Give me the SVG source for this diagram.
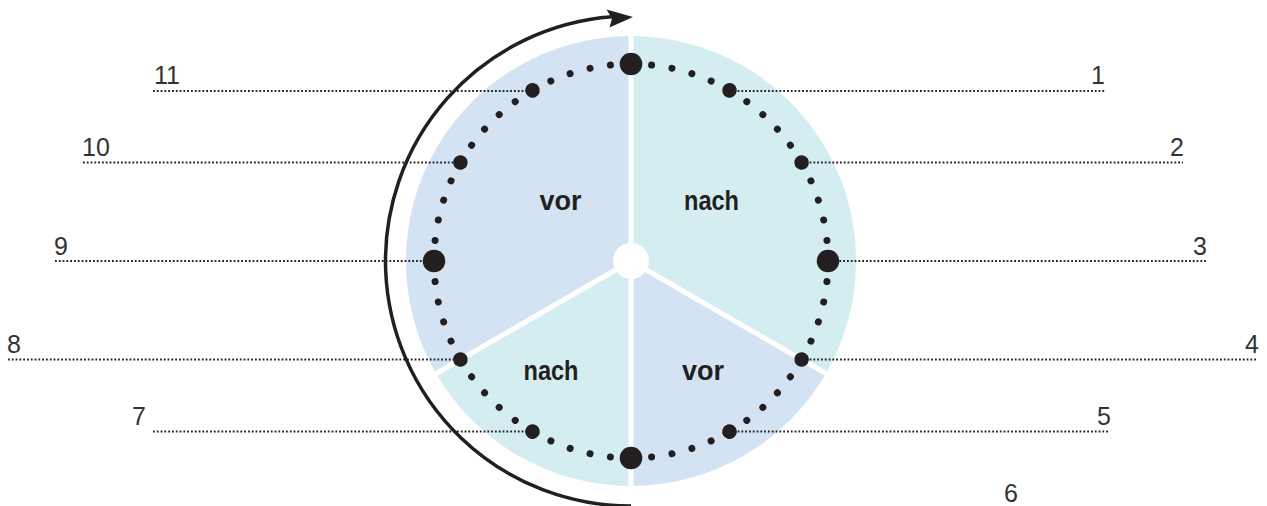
<svg xmlns="http://www.w3.org/2000/svg" xmlns:xlink="http://www.w3.org/1999/xlink" width="1267" height="506" viewBox="0 0 1267 506">
<style>
.blue{fill:#d3e3f4}
.cyan{fill:#d4edf1}
.sep{stroke:#fff;stroke-width:5;fill:none}
.dot{fill:#231f20}
.lead{stroke:#222;stroke-width:1.8;stroke-dasharray:1.8 2;fill:none}
.num{font-family:"Liberation Sans",Arial,sans-serif;font-size:25px;fill:#333}
.lab{font-family:"Liberation Sans",Arial,sans-serif;font-size:27px;font-weight:bold;fill:#231f20;text-anchor:middle}
.arc{stroke:#231f20;stroke-width:3.5;fill:none}
</style>
<defs>
<circle id="m" cx="631" cy="64" r="3.5" class="dot"/>
<circle id="h" cx="631" cy="64" r="7.3" class="dot"/>
<circle id="b" cx="631" cy="64" r="11.3" class="dot"/>
</defs>
<g id="face">
<path class="blue" d="M631,261 L631,36 A225,225 0 0 0 436.1,373.5 Z"/>
<path class="cyan" d="M631,261 L631,36 A225,225 0 0 1 825.9,373.5 Z"/>
<path class="blue" d="M631,261 L825.9,373.5 A225,225 0 0 1 631,486 Z"/>
<path class="cyan" d="M631,261 L631,486 A225,225 0 0 1 436.1,373.5 Z"/>
<path class="sep" d="M631,30 L631,492 M631,261 L831.1,376.5 M631,261 L430.9,376.5"/>
<circle cx="631" cy="261" r="18" fill="#fff"/>
</g>
<g id="connectors">
<path class="lead" d="M153,91 H532"/>
<path class="lead" d="M83,162.5 H460"/>
<path class="lead" d="M55,261 H434"/>
<path class="lead" d="M8,359.5 H460"/>
<path class="lead" d="M153,431.5 H532"/>
<path class="lead" d="M730,91 H1106"/>
<path class="lead" d="M802,162.5 H1183"/>
<path class="lead" d="M828,261 H1208"/>
<path class="lead" d="M802,359.5 H1258"/>
<path class="lead" d="M730,431.5 H1110"/>
</g>
<g id="arrow">
<path class="arc" d="M631,506 A245,245 0 0 1 612,16.7"/>
<path class="dot" d="M633,17 L606.5,9.5 L612,18.5 L609.5,27.5 Z"/>
</g>
<g id="dots">
<use xlink:href="#b"/>
<use xlink:href="#m" transform="rotate(6 631 261)"/>
<use xlink:href="#m" transform="rotate(12 631 261)"/>
<use xlink:href="#m" transform="rotate(18 631 261)"/>
<use xlink:href="#m" transform="rotate(24 631 261)"/>
<use xlink:href="#h" transform="rotate(30 631 261)"/>
<use xlink:href="#m" transform="rotate(36 631 261)"/>
<use xlink:href="#m" transform="rotate(42 631 261)"/>
<use xlink:href="#m" transform="rotate(48 631 261)"/>
<use xlink:href="#m" transform="rotate(54 631 261)"/>
<use xlink:href="#h" transform="rotate(60 631 261)"/>
<use xlink:href="#m" transform="rotate(66 631 261)"/>
<use xlink:href="#m" transform="rotate(72 631 261)"/>
<use xlink:href="#m" transform="rotate(78 631 261)"/>
<use xlink:href="#m" transform="rotate(84 631 261)"/>
<use xlink:href="#b" transform="rotate(90 631 261)"/>
<use xlink:href="#m" transform="rotate(96 631 261)"/>
<use xlink:href="#m" transform="rotate(102 631 261)"/>
<use xlink:href="#m" transform="rotate(108 631 261)"/>
<use xlink:href="#m" transform="rotate(114 631 261)"/>
<use xlink:href="#h" transform="rotate(120 631 261)"/>
<use xlink:href="#m" transform="rotate(126 631 261)"/>
<use xlink:href="#m" transform="rotate(132 631 261)"/>
<use xlink:href="#m" transform="rotate(138 631 261)"/>
<use xlink:href="#m" transform="rotate(144 631 261)"/>
<use xlink:href="#h" transform="rotate(150 631 261)"/>
<use xlink:href="#m" transform="rotate(156 631 261)"/>
<use xlink:href="#m" transform="rotate(162 631 261)"/>
<use xlink:href="#m" transform="rotate(168 631 261)"/>
<use xlink:href="#m" transform="rotate(174 631 261)"/>
<use xlink:href="#b" transform="rotate(180 631 261)"/>
<use xlink:href="#m" transform="rotate(186 631 261)"/>
<use xlink:href="#m" transform="rotate(192 631 261)"/>
<use xlink:href="#m" transform="rotate(198 631 261)"/>
<use xlink:href="#m" transform="rotate(204 631 261)"/>
<use xlink:href="#h" transform="rotate(210 631 261)"/>
<use xlink:href="#m" transform="rotate(216 631 261)"/>
<use xlink:href="#m" transform="rotate(222 631 261)"/>
<use xlink:href="#m" transform="rotate(228 631 261)"/>
<use xlink:href="#m" transform="rotate(234 631 261)"/>
<use xlink:href="#h" transform="rotate(240 631 261)"/>
<use xlink:href="#m" transform="rotate(246 631 261)"/>
<use xlink:href="#m" transform="rotate(252 631 261)"/>
<use xlink:href="#m" transform="rotate(258 631 261)"/>
<use xlink:href="#m" transform="rotate(264 631 261)"/>
<use xlink:href="#b" transform="rotate(270 631 261)"/>
<use xlink:href="#m" transform="rotate(276 631 261)"/>
<use xlink:href="#m" transform="rotate(282 631 261)"/>
<use xlink:href="#m" transform="rotate(288 631 261)"/>
<use xlink:href="#m" transform="rotate(294 631 261)"/>
<use xlink:href="#h" transform="rotate(300 631 261)"/>
<use xlink:href="#m" transform="rotate(306 631 261)"/>
<use xlink:href="#m" transform="rotate(312 631 261)"/>
<use xlink:href="#m" transform="rotate(318 631 261)"/>
<use xlink:href="#m" transform="rotate(324 631 261)"/>
<use xlink:href="#h" transform="rotate(330 631 261)"/>
<use xlink:href="#m" transform="rotate(336 631 261)"/>
<use xlink:href="#m" transform="rotate(342 631 261)"/>
<use xlink:href="#m" transform="rotate(348 631 261)"/>
<use xlink:href="#m" transform="rotate(354 631 261)"/>
</g>
<g id="sector-labels">
<text class="lab" x="560.5" y="210">vor</text>
<text class="lab" x="711.5" y="209.5" textLength="55" lengthAdjust="spacingAndGlyphs">nach</text>
<text class="lab" x="551" y="380" textLength="55" lengthAdjust="spacingAndGlyphs">nach</text>
<text class="lab" x="703" y="380">vor</text>
</g>
<g id="hour-labels">
<text class="num" x="154" y="84">11</text>
<text class="num" x="82" y="156">10</text>
<text class="num" x="54" y="255">9</text>
<text class="num" x="7" y="353">8</text>
<text class="num" x="132" y="425">7</text>
<text class="num" x="1105" y="84" text-anchor="end">1</text>
<text class="num" x="1184" y="156" text-anchor="end">2</text>
<text class="num" x="1207" y="255" text-anchor="end">3</text>
<text class="num" x="1259" y="353" text-anchor="end">4</text>
<text class="num" x="1111" y="425" text-anchor="end">5</text>
<text class="num" x="1018" y="502" text-anchor="end">6</text>
</g>
</svg>
